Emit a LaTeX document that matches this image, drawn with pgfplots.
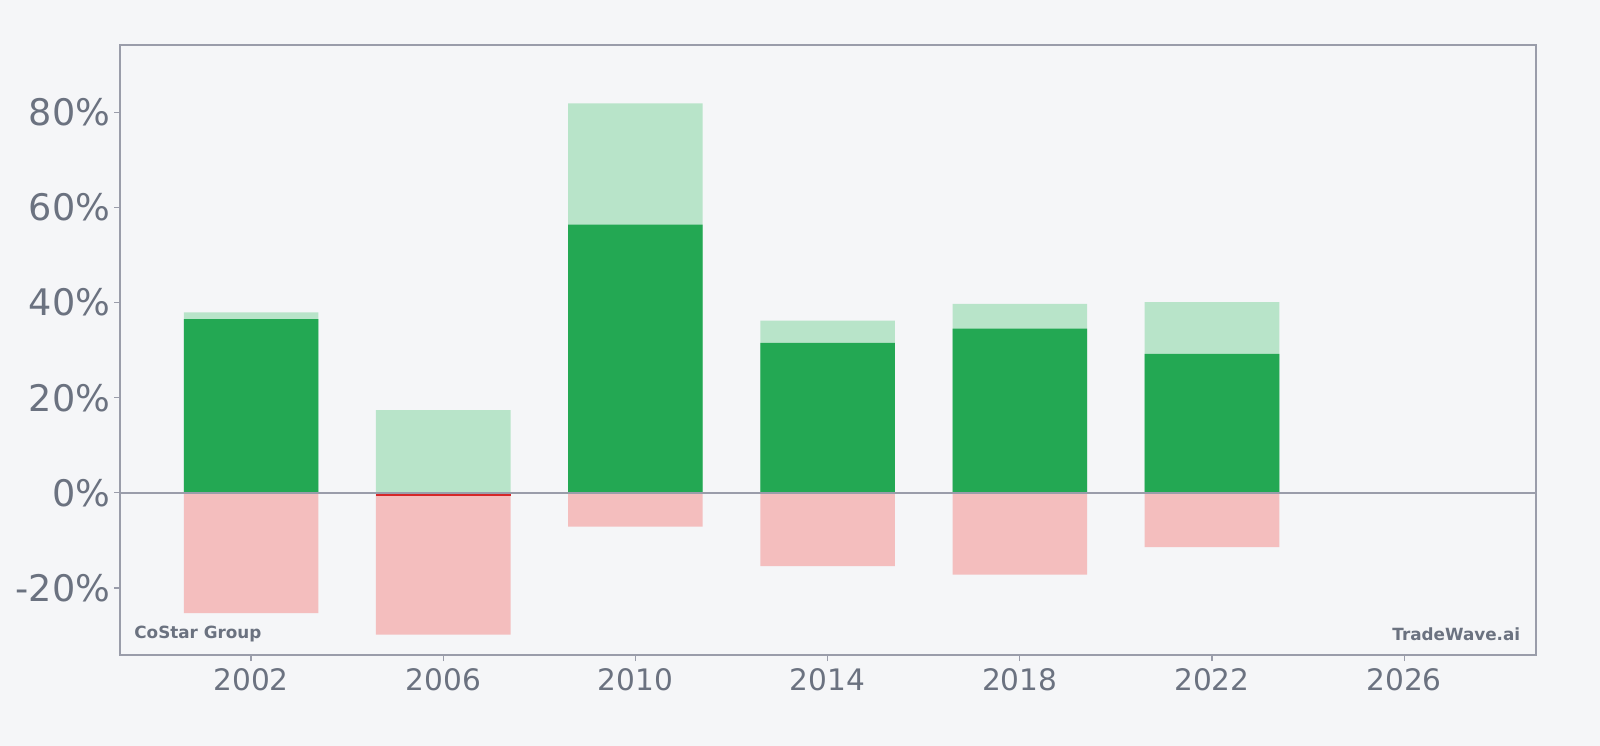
\documentclass[border=0pt]{standalone}
\usepackage{pgfplots}
\pgfplotsset{compat=1.18}
\usepackage{fontspec}
\setmainfont{DejaVu Sans}
\usetikzlibrary{backgrounds}
\definecolor{bg}{HTML}{F5F6F8}
\definecolor{txt}{HTML}{6B7280}
\definecolor{axl}{RGB}{154,157,170}
\definecolor{dgreen}{HTML}{23A853}
\definecolor{lgreen}{HTML}{B8E4C9}
\definecolor{lred}{HTML}{F4BEBE}
\definecolor{dred}{HTML}{D62728}
\begin{document}
\begin{tikzpicture}[background rectangle/.style={fill=bg}, show background rectangle]
\begin{axis}[
  scale only axis,
  width=707.7pt, height=305.1pt,
  xmin=1999.28, xmax=2028.74,
  ymin=-34.1, ymax=94.2,
  axis line style={axl, line width=1pt},
  xtick={2002,2006,2010,2014,2018,2022,2026},
  ytick={-20,0,20,40,60,80},
  yticklabel={\pgfmathprintnumber{\tick}\%},
  /pgf/number format/1000 sep={},
  /pgf/number format/assume math mode=true,
  xticklabel style={font=\fontsize{14.8}{17}\selectfont, text=txt},
  yticklabel style={font=\fontsize{18.3}{21}\selectfont, text=txt, xshift=1.5pt},
  tick align=outside,
  major tick length=3pt,
  tick style={axl, line width=0.6pt},
  xtick pos=bottom, ytick pos=left,
  ybar, bar width=67.3pt, bar shift=0pt,
  clip=true,
]
\addplot[fill=lgreen, draw=none] coordinates {(2002,37.96) (2006,17.4) (2010,81.9) (2014,36.2) (2018,39.7) (2022,40.1)};
\addplot[fill=lred, draw=none] coordinates {(2002,-25.3) (2006,-29.8) (2010,-7.1) (2014,-15.4) (2018,-17.2) (2022,-11.4)};
\addplot[fill=dgreen, draw=none] coordinates {(2002,36.5) (2010,56.4) (2014,31.5) (2018,34.5) (2022,29.2)};
\addplot[fill=dred, draw=none] coordinates {(2006,-0.6)};
\draw[axl, line width=1pt] (axis cs:1999.28,0) -- (axis cs:2028.74,0);
\node[anchor=west, inner sep=0pt, font=\bfseries\fontsize{8.4}{10}\selectfont, text=txt] at ([xshift=6.8pt, yshift=10.5pt]rel axis cs:0,0) {CoStar Group};
\node[anchor=east, inner sep=0pt, font=\bfseries\fontsize{8.4}{10}\selectfont, text=txt] at ([xshift=-7.6pt, yshift=10.5pt]rel axis cs:1,0) {TradeWave.ai};
\end{axis}
\path[use as bounding box] ([xshift=-60.2pt, yshift=-45.4pt]current axis.south west) rectangle ([xshift=32.1pt, yshift=22.4pt]current axis.north east);
\end{tikzpicture}
\end{document}
